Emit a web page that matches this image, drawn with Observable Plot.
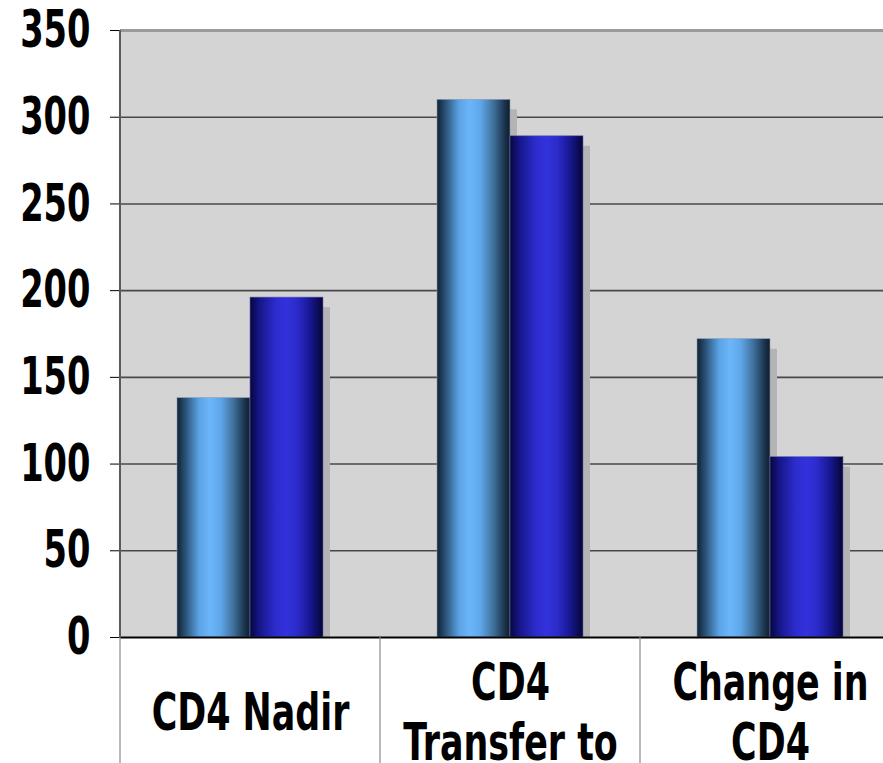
<!DOCTYPE html>
<html>
<head>
<meta charset="utf-8">
<script src="https://cdn.jsdelivr.net/npm/d3@7"></script>
<script src="https://cdn.jsdelivr.net/npm/@observablehq/plot@0.6"></script>
<style>
  html, body { margin: 0; padding: 0; background: #fff; overflow: hidden; }
</style>
</head>
<body>
<div id="chart"></div>
<script>
// CD4 counts for the two groups, one value per category
const categories = ["CD4 Nadir", "CD4 Transfer to", "Change in CD4"];
const categoryLabels = ["CD4 Nadir", "CD4\nTransfer to", "Change in\nCD4"];
const seriesNames = ["Series 1", "Series 2"];
const series1Values = [138, 310, 172];
const series2Values = [196, 289, 104];
const yTicks = [0, 50, 100, 150, 200, 250, 300, 350];

const rows = categories.flatMap((category, i) => [
  {category, series: seriesNames[0], value: series1Values[i]},
  {category, series: seriesNames[1], value: series2Values[i]}
]);

const fontStack = "'DejaVu Sans Condensed', 'DejaVu Sans', sans-serif";

const chart = Plot.plot({
  width: 883,
  height: 763,
  marginLeft: 120,
  marginRight: -17,
  marginTop: 30,
  marginBottom: 126,
  style: {
    fontFamily: fontStack,
    fontWeight: "bold",
    fontSize: "52px",
    color: "#000",
    background: "#fff",
    overflow: "visible"
  },
  fx: {domain: categories, padding: 0, axis: null, label: null},
  x: {domain: seriesNames, paddingInner: 0, paddingOuter: 0.77, axis: null, label: null},
  y: {domain: [0, 350], ticks: yTicks, tickSize: 10, tickPadding: 20, label: null},
  marks: [
    Plot.frame({fill: "#d4d4d4", stroke: "none", insetLeft: -0.75, insetRight: -0.75}),
    Plot.ruleY(yTicks.filter(v => v > 0 && v < 350), {stroke: "#484848", strokeWidth: 1.6}),
    Plot.ruleY([350], {stroke: "#9a9a9a", strokeWidth: 3}),
    // drop shadows behind the bars
    Plot.rectY(rows, {fx: "category", x: "series", y: "value", fill: "#b4b4b4", dx: 7, dy: 10, clip: true}),
    Plot.rectY(rows.filter(d => d.series === seriesNames[0]), {
      fx: "category", x: "series", y: "value", fill: "url(#barLight)", stroke: "#8a9ab0", strokeWidth: 0.6
    }),
    Plot.rectY(rows.filter(d => d.series === seriesNames[1]), {
      fx: "category", x: "series", y: "value", fill: "url(#barDark)", stroke: "#6a6ab0", strokeWidth: 0.6
    }),
    Plot.ruleY([0], {stroke: "#000", strokeWidth: 2}),
    Plot.text(categories, {
      fx: d => d,
      text: (d, i) => categoryLabels[i],
      frameAnchor: "bottom",
      dy: 73,
      lineAnchor: "middle",
      lineHeight: 1.17,
      fontSize: 52,
      fontWeight: "bold",
      fill: "#000",
      className: "category-label"
    })
  ]
});

document.getElementById("chart").appendChild(chart);

// cylinder-style shading for the two bar series
const svg = d3.select(chart);
const defs = svg.insert("defs", ":first-child");
function gradient(id, stops) {
  const g = defs.append("linearGradient").attr("id", id)
    .attr("x1", "0").attr("x2", "1").attr("y1", "0").attr("y2", "0");
  stops.forEach(([o, c]) => g.append("stop").attr("offset", o).attr("stop-color", c));
}
gradient("barLight", [
  [0, "#0f2134"], [0.12, "#2b5478"], [0.3, "#5aa2e4"], [0.45, "#6bb6fb"],
  [0.6, "#5ea6e8"], [0.78, "#3e6e98"], [0.92, "#1c3650"], [1, "#0d1d2c"]
]);
gradient("barDark", [
  [0, "#06063e"], [0.12, "#151585"], [0.35, "#2c2cce"], [0.5, "#3232dc"],
  [0.65, "#2b2bca"], [0.82, "#181892"], [1, "#040436"]
]);

// narrow the bold lettering horizontally
function condense(el, factor) {
  const len = el.getComputedTextLength();
  if (len > 0) {
    el.setAttribute("textLength", len * factor);
    el.setAttribute("lengthAdjust", "spacingAndGlyphs");
  }
}
svg.selectAll("text").each(function () {
  const isCategory = this.closest(".category-label") !== null;
  const factor = isCategory ? 0.745 : 0.72;
  const spans = this.querySelectorAll("tspan");
  if (spans.length) spans.forEach(s => condense(s, factor));
  else condense(this, factor);
});

// category separators below the baseline and the left value axis line
const fx = chart.scale("fx");
const y = chart.scale("y");
const y0 = y.apply(0), yTop = y.apply(350);
const lines = svg.append("g");
lines.append("line")
  .attr("x1", fx.apply(categories[0])).attr("x2", fx.apply(categories[0]))
  .attr("y1", yTop).attr("y2", y0)
  .attr("stroke", "#5a5a5a").attr("stroke-width", 2);
categories.forEach(c => {
  const x = fx.apply(c);
  lines.append("line")
    .attr("x1", x).attr("x2", x).attr("y1", y0).attr("y2", 763)
    .attr("stroke", "#8a8a8a").attr("stroke-width", 1.2);
});
</script>
</body>
</html>
